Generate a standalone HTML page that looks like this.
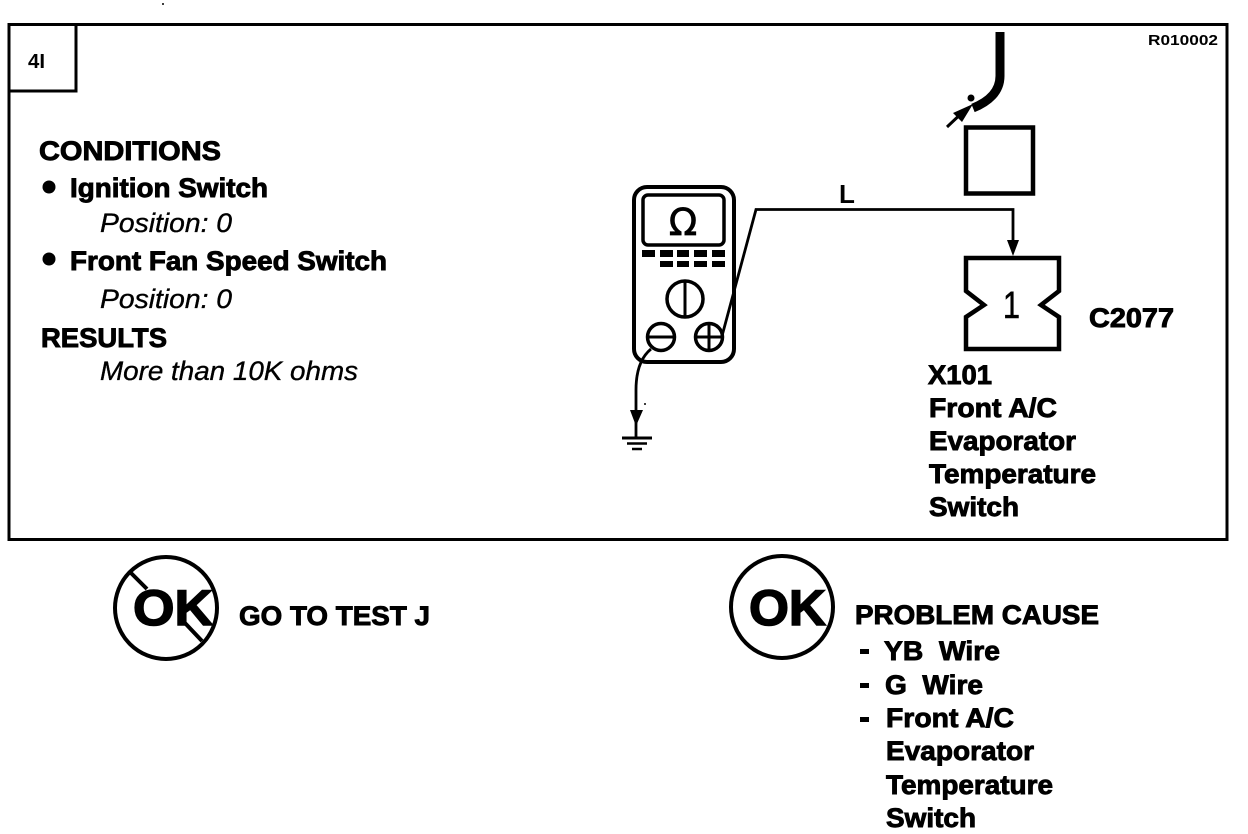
<!DOCTYPE html>
<html><head><meta charset="utf-8"><style>
html,body{margin:0;padding:0;background:#fff}
svg{display:block}
text{font-family:"Liberation Sans",sans-serif;fill:#000}
.b{font-weight:bold;font-size:27px;stroke:#000;stroke-width:.9}
.i{font-style:italic;font-size:27px;stroke:#000;stroke-width:.35}
</style></head><body>
<svg width="1248" height="834" viewBox="0 0 1248 834" xmlns="http://www.w3.org/2000/svg">
<g fill="none" stroke="#000" stroke-width="3">
<rect x="9" y="24.500" width="1218" height="515"/>
<path d="M9 91H76V25"/>
<rect x="634" y="187" width="100" height="175" rx="13" stroke-width="4"/>
<rect x="643" y="195" width="81" height="50" rx="5" stroke-width="3.500"/>
<circle cx="685" cy="299" r="18" stroke-width="3.500"/>
<path d="M685 281V317" stroke-width="3"/>
<circle cx="661" cy="337" r="13.500" stroke-width="3.500"/>
<path d="M648 337H674" stroke-width="3"/>
<circle cx="709" cy="337" r="13.500" stroke-width="3.500"/>
<path d="M696 337H722M709 324V350" stroke-width="3"/>
<path d="M722 336L756 209.500H1013V245" stroke-width="2.800"/>
<path d="M651 349C640 358 636 372 636 390V437" stroke-width="2.800"/>
<rect x="966" y="127.500" width="67" height="66" stroke-width="4.500"/>
<path d="M966 258H1059V291L1041 305L1059 317V349H966V317L984 305L966 291Z" stroke-width="4.500"/>
<path d="M1000 32V76C1000 92 988 102 973 108" stroke-width="9"/>
<path d="M947 127L966 109" stroke-width="3"/>
<path d="M622 438H652" stroke-width="3"/>
<path d="M627 443.500H647" stroke-width="2.500"/>
<path d="M632 449H642" stroke-width="2.500"/>
<circle cx="166" cy="608" r="51" stroke-width="4"/>
<path d="M131 573L147 589M184 622L202 641" stroke-width="4"/>
<circle cx="782" cy="607" r="51" stroke-width="4"/>
</g>
<g fill="#000">
<path d="M1007 240H1019L1013 256Z"/>
<path d="M630 410H643L636 426Z"/>
<path d="M973 104L962 122L953 113Z"/>
<circle cx="971" cy="98" r="3.500"/>
<circle cx="49" cy="187" r="6.500"/>
<circle cx="49" cy="259" r="6.500"/>
<circle cx="163" cy="4" r="1"/>
<circle cx="645" cy="404" r="1"/>
<rect x="642" y="250" width="13" height="7"/>
<rect x="660" y="250" width="13" height="7"/>
<rect x="677" y="250" width="12" height="7"/>
<rect x="694" y="250" width="13" height="7"/>
<rect x="712" y="250" width="13" height="7"/>
<rect x="660" y="261" width="13" height="6"/>
<rect x="677" y="261" width="12" height="6"/>
<rect x="694" y="261" width="13" height="6"/>
<rect x="712" y="261" width="13" height="6"/>
<rect x="860" y="649" width="9" height="5"/>
<rect x="860" y="683" width="9" height="5"/>
<rect x="860" y="717" width="9" height="5"/>
</g>
<text x="28" y="68" font-size="20" font-weight="bold" textLength="17" lengthAdjust="spacingAndGlyphs">4I</text>
<text x="1148" y="45" font-size="15" font-weight="bold" textLength="70" lengthAdjust="spacingAndGlyphs">R010002</text>
<text class="b" x="39" y="160" textLength="182" lengthAdjust="spacingAndGlyphs">CONDITIONS</text>
<text class="b" x="70" y="197" textLength="198" lengthAdjust="spacingAndGlyphs">Ignition Switch</text>
<text class="i" x="100" y="232" textLength="132" lengthAdjust="spacingAndGlyphs">Position: 0</text>
<text class="b" x="70" y="270" textLength="317" lengthAdjust="spacingAndGlyphs">Front Fan Speed Switch</text>
<text class="i" x="100" y="308" textLength="132" lengthAdjust="spacingAndGlyphs">Position: 0</text>
<text class="b" x="41" y="347" textLength="126" lengthAdjust="spacingAndGlyphs">RESULTS</text>
<text class="i" x="100" y="380" textLength="258" lengthAdjust="spacingAndGlyphs">More than 10K ohms</text>
<text x="683" y="235" font-size="37" stroke="#000" stroke-width=".8" text-anchor="middle" style="font-family:'DejaVu Sans',sans-serif">Ω</text>
<text x="839" y="203" font-size="26" font-weight="bold">L</text>
<text x="1003" y="318" font-size="38" stroke="#000" stroke-width=".6" textLength="17" lengthAdjust="spacingAndGlyphs">1</text>
<text class="b" x="1089" y="327" textLength="85" lengthAdjust="spacingAndGlyphs">C2077</text>
<text class="b" x="928" y="384" textLength="64" lengthAdjust="spacingAndGlyphs">X101</text>
<text class="b" x="929" y="417" textLength="128" lengthAdjust="spacingAndGlyphs">Front A/C</text>
<text class="b" x="929" y="450" textLength="147" lengthAdjust="spacingAndGlyphs">Evaporator</text>
<text class="b" x="929" y="483" textLength="167" lengthAdjust="spacingAndGlyphs">Temperature</text>
<text class="b" x="929" y="516" textLength="90" lengthAdjust="spacingAndGlyphs">Switch</text>
<text x="133" y="625" font-size="50" font-weight="bold" stroke="#000" stroke-width="1.500" textLength="80" lengthAdjust="spacingAndGlyphs">OK</text>
<text x="749" y="625" font-size="50" font-weight="bold" stroke="#000" stroke-width="1.500" textLength="77" lengthAdjust="spacingAndGlyphs">OK</text>
<text class="b" x="239" y="625" textLength="191" lengthAdjust="spacingAndGlyphs">GO TO TEST J</text>
<text class="b" x="855" y="624" textLength="244" lengthAdjust="spacingAndGlyphs">PROBLEM CAUSE</text>
<text class="b" x="884" y="660" textLength="116" xml:space="preserve" lengthAdjust="spacingAndGlyphs">YB  Wire</text>
<text class="b" x="885" y="694" textLength="98" xml:space="preserve" lengthAdjust="spacingAndGlyphs">G  Wire</text>
<text class="b" x="886" y="727" textLength="128" lengthAdjust="spacingAndGlyphs">Front A/C</text>
<text class="b" x="886" y="760" textLength="148" lengthAdjust="spacingAndGlyphs">Evaporator</text>
<text class="b" x="886" y="794" textLength="167" lengthAdjust="spacingAndGlyphs">Temperature</text>
<text class="b" x="886" y="827" textLength="90" lengthAdjust="spacingAndGlyphs">Switch</text>
</svg>
</body></html>
